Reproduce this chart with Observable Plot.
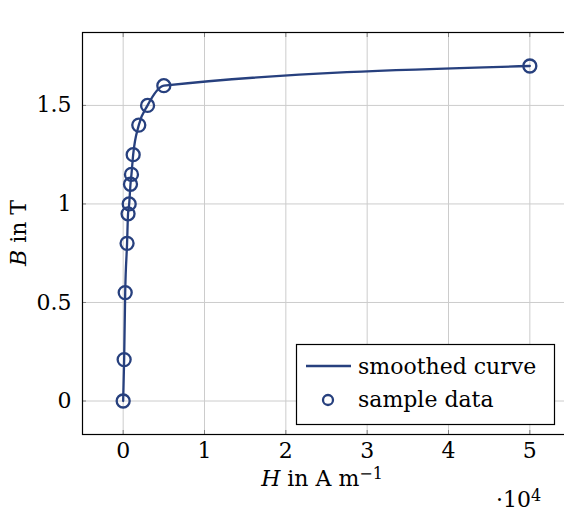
<!DOCTYPE html>
<html><head><meta charset="utf-8">
<script src="https://cdn.jsdelivr.net/npm/d3@7"></script>
<script src="https://cdn.jsdelivr.net/npm/@observablehq/plot@0.6"></script>
<style>
html,body{margin:0;padding:0;background:#fff;overflow:hidden;}
#chart{position:relative;width:564px;height:514px;overflow:hidden;}
#chart svg{max-width:none !important;}
</style></head><body><div id="chart"></div>
<script>
// Data: magnetic field strength H (A/m) and flux density B (T)
const H = [0, 120, 250, 480, 600, 740, 900, 1020, 1230, 1920, 3000, 5000, 50000];
const B = [0, 0.21, 0.55, 0.8, 0.95, 1.0, 1.1, 1.15, 1.25, 1.4, 1.5, 1.6, 1.7];
const xTicks = [0, 10000, 20000, 30000, 40000, 50000];
const yTicks = [0, 0.5, 1, 1.5];
const seriesNames = ["smoothed curve", "sample data"];

const color = "#27407e";
const font = "'DejaVu Serif', 'Liberation Serif', serif";
const fs = 22;
const data = H.map((h, i) => ({H: h, B: B[i]}));

const plot = Plot.plot({
  width: 570, height: 514,
  marginLeft: 82, marginRight: 0, marginTop: 32, marginBottom: 80,
  style: {fontFamily: font, fontSize: fs + "px", background: "#fff", color: "#000", maxWidth: "none"},
  x: {domain: [-5000, 55000]},
  y: {domain: [-0.17, 1.87]},
  marks: [
    Plot.gridX(xTicks, {stroke: "#cccccc", strokeOpacity: 1}),
    Plot.gridY(yTicks, {stroke: "#cccccc", strokeOpacity: 1}),
    Plot.axisX(xTicks, {anchor: "bottom", tickSize: 4, dy: -4, tickFormat: () => "", stroke: "#808080", label: null}),
    Plot.axisX(xTicks, {anchor: "top", tickSize: 4, dy: 4, tickFormat: () => "", stroke: "#808080", label: null}),
    Plot.axisY(yTicks, {anchor: "left", tickSize: 4, dx: 4, tickFormat: () => "", stroke: "#808080", label: null}),
    Plot.axisX(xTicks, {anchor: "bottom", tickSize: 0, tickPadding: 8, tickFormat: d => String(d / 1e4), label: null, fontSize: fs}),
    Plot.axisY(yTicks, {anchor: "left", tickSize: 0, tickPadding: 11, tickFormat: d => String(d), label: null, fontSize: fs}),
    Plot.frame({stroke: "#000", strokeWidth: 1.2}),
    Plot.line(data, {x: "H", y: "B", curve: "monotone-x", stroke: color, strokeWidth: 2.3}),
    Plot.dot(data, {x: "H", y: "B", r: 6.5, stroke: color, strokeWidth: 2.3, fill: "none"})
  ]
});

document.getElementById("chart").appendChild(plot);
const svg = d3.select(plot);
const txt = sel => sel.style("font-family", font).style("font-size", fs + "px").attr("fill", "#000");

// Y label
const yl = svg.append("text")
  .attr("transform", "translate(18,233) rotate(-90)")
  .attr("text-anchor", "middle").attr("dominant-baseline", "central").call(txt);
yl.append("tspan").style("font-style", "italic").text("B");
yl.append("tspan").text(" in T");

// X label
const xl = svg.append("text")
  .attr("x", 322).attr("y", 486).attr("text-anchor", "middle").call(txt);
xl.append("tspan").style("font-style", "italic").text("H");
xl.append("tspan").text(" in A m");
xl.append("tspan").attr("dy", -7).style("font-size", "16px").text("−1");

// Exponent
const ex = svg.append("text")
  .attr("x", 496).attr("y", 507).attr("text-anchor", "start").call(txt);
ex.append("tspan").text("·10");
ex.append("tspan").attr("dy", -6).style("font-size", "16px").text("4");

// Legend
const lg = svg.append("g");
lg.append("rect").attr("x", 296.5).attr("y", 344.5).attr("width", 258).attr("height", 80)
  .attr("fill", "#fff").attr("stroke", "#000").attr("stroke-width", 1.2);
lg.append("line").attr("x1", 306).attr("x2", 351).attr("y1", 366).attr("y2", 366)
  .attr("stroke", color).attr("stroke-width", 2.3);
lg.append("circle").attr("cx", 328).attr("cy", 400).attr("r", 5)
  .attr("fill", "none").attr("stroke", color).attr("stroke-width", 2.3);
lg.append("text").attr("x", 358).attr("y", 374).attr("text-anchor", "start").text(seriesNames[0]).call(txt);
lg.append("text").attr("x", 358).attr("y", 407).attr("text-anchor", "start").text(seriesNames[1]).call(txt);
</script>
</body></html>
